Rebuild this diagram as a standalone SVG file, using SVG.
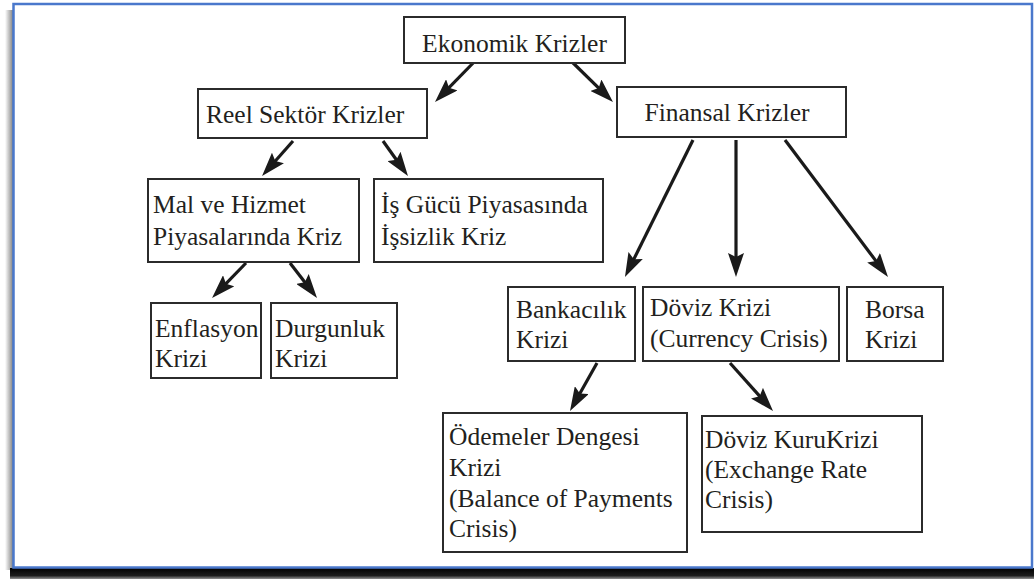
<svg xmlns="http://www.w3.org/2000/svg" width="1034" height="579" viewBox="0 0 1034 579">
<defs>
<style>
.box{fill:#fff;stroke:#2b2b2b;stroke-width:2}
.t{font-family:"Liberation Serif","Times New Roman",serif;font-size:25.5px;fill:#231f20}
.c{stroke:#1a1a1a;stroke-width:3.2;fill:none;marker-end:url(#ah)}
</style>
<marker id="ah" markerUnits="userSpaceOnUse" markerWidth="24" markerHeight="16" refX="12" refY="8" orient="auto" viewBox="0 0 24 16">
<path d="M0,0 L24,8 L0,16 L4,8 Z" fill="#1a1a1a"/>
</marker>
<linearGradient id="lsh" x1="0" y1="0" x2="1" y2="0">
<stop offset="0" stop-color="#000" stop-opacity="0"/>
<stop offset="1" stop-color="#000" stop-opacity="0.55"/>
</linearGradient>
<linearGradient id="bsh" x1="0" y1="0" x2="0" y2="1">
<stop offset="0" stop-color="#000" stop-opacity="1"/>
<stop offset="0.7" stop-color="#111" stop-opacity="0.95"/>
<stop offset="1" stop-color="#444" stop-opacity="0.6"/>
</linearGradient>
</defs>
<rect x="0" y="0" width="1034" height="579" fill="#fff"/>
<g id="frame">
<rect x="5" y="10" width="9" height="560" fill="url(#lsh)"/>
<rect x="10" y="568" width="1024" height="11" fill="url(#bsh)"/>
<rect x="13.5" y="4" width="1018.5" height="563.5" fill="#fff" stroke="#4a78cc" stroke-width="2.5"/>
</g>
<g id="connectors">
<line class="c" x1="478" y1="58" x2="443.4" y2="93.4"/>
<line class="c" x1="568" y1="58" x2="604.4" y2="93.6"/>
<line class="c" x1="293" y1="141" x2="270" y2="167"/>
<line class="c" x1="383" y1="141" x2="401" y2="166.2"/>
<line class="c" x1="246" y1="263" x2="220.4" y2="289.4"/>
<line class="c" x1="290" y1="263" x2="309.7" y2="288.5"/>
<line class="c" x1="693" y1="140" x2="630.3" y2="266.3"/>
<line class="c" x1="736" y1="140" x2="736" y2="265"/>
<line class="c" x1="785" y1="140" x2="880.8" y2="267.4"/>
<line class="c" x1="597" y1="363" x2="575.9" y2="400.5"/>
<line class="c" x1="730" y1="363" x2="765" y2="402.1"/>
</g>
<g id="ekonomik">
<rect class="box" x="404" y="17" width="221" height="46"/>
<text class="t" x="514.5" y="52" text-anchor="middle">Ekonomik Krizler</text>
</g>
<g id="reel">
<rect class="box" x="198" y="89" width="229" height="49"/>
<text class="t" x="206" y="123">Reel Sektör Krizler</text>
</g>
<g id="finansal">
<rect class="box" x="617" y="87" width="229" height="50"/>
<text class="t" x="727" y="121" text-anchor="middle">Finansal Krizler</text>
</g>
<g id="malhizmet">
<rect class="box" x="148" y="179" width="211" height="83"/>
<text class="t" x="153" y="213">Mal ve Hizmet</text>
<text class="t" x="153" y="245">Piyasalarında Kriz</text>
</g>
<g id="isgucu">
<rect class="box" x="374" y="179" width="229" height="83"/>
<text class="t" x="381" y="213">İş Gücü Piyasasında</text>
<text class="t" x="381" y="245">İşsizlik Kriz</text>
</g>
<g id="enflasyon">
<rect class="box" x="151" y="303" width="110" height="75"/>
<text class="t" x="155" y="337">Enflasyon</text>
<text class="t" x="155" y="367">Krizi</text>
</g>
<g id="durgunluk">
<rect class="box" x="271" y="303" width="126" height="75"/>
<text class="t" x="275" y="337">Durgunluk</text>
<text class="t" x="275" y="367">Krizi</text>
</g>
<g id="bankacilik">
<rect class="box" x="508" y="287" width="127" height="74"/>
<text class="t" x="516" y="318">Bankacılık</text>
<text class="t" x="516" y="348">Krizi</text>
</g>
<g id="doviz">
<rect class="box" x="643" y="287" width="196" height="74"/>
<text class="t" x="650" y="316">Döviz Krizi</text>
<text class="t" x="650" y="347">(Currency Crisis)</text>
</g>
<g id="borsa">
<rect class="box" x="847" y="287" width="96" height="74"/>
<text class="t" x="865" y="318">Borsa</text>
<text class="t" x="865" y="348">Krizi</text>
</g>
<g id="odemeler">
<rect class="box" x="443" y="413" width="244" height="139"/>
<text class="t" x="449" y="445">Ödemeler Dengesi</text>
<text class="t" x="449" y="476">Krizi</text>
<text class="t" x="449" y="507">(Balance of Payments</text>
<text class="t" x="449" y="537">Crisis)</text>
</g>
<g id="dovizkuru">
<rect class="box" x="702" y="416" width="220" height="116"/>
<text class="t" x="705" y="448">Döviz KuruKrizi</text>
<text class="t" x="705" y="478">(Exchange Rate</text>
<text class="t" x="705" y="508">Crisis)</text>
</g>
</svg>
